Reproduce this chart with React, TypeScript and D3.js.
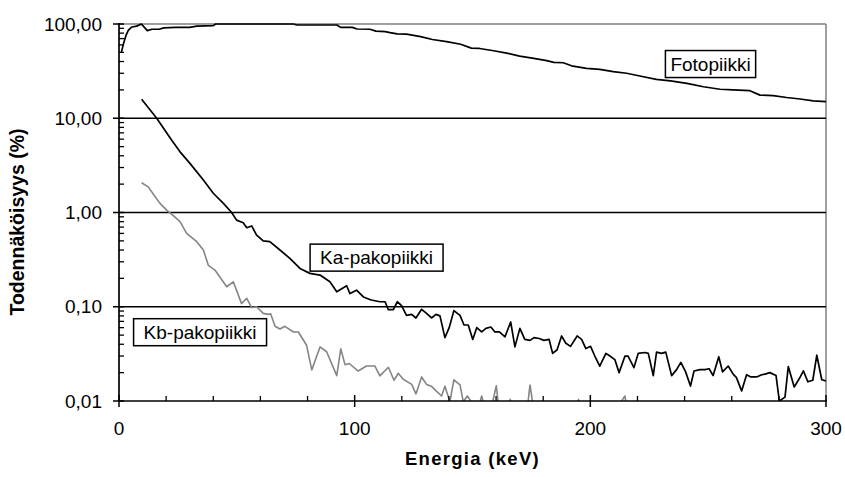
import React from "react";
import * as d3 from "d3";

const fotoE = [1, 2, 3, 4, 5.5, 7.5, 9.5, 12, 14, 17, 19, 24, 30, 33, 40, 41, 74, 75.5, 92.5, 94, 99, 101, 106.5, 109, 113, 115, 118, 122, 128, 133, 139, 145, 149.5, 153, 159, 164.5, 170, 176, 181.5, 184.5, 188.5, 192, 198.4, 204, 209.7, 215.4, 221, 228, 234, 241, 248, 255, 260.6, 267.7, 272, 277.6, 283.3, 289, 294.6, 300];
const fotoV = [50, 63, 76, 86, 93, 95, 100, 85, 88, 88, 91, 92, 92, 95, 96, 100, 100, 97.6, 97.6, 92, 92, 88.5, 88, 84, 83, 81, 78.5, 78, 73.5, 68.5, 65, 61, 55.5, 55, 52, 49, 45.7, 43.2, 40.8, 39.2, 38.8, 36, 33.8, 33, 31.2, 30, 28.1, 25.9, 24.9, 23.4, 21.6, 20.3, 20, 19.6, 17.6, 17.4, 16.6, 16, 15.3, 15];

const kaE = [9.6, 16, 22.3, 25.9, 30.1, 35.8, 40, 44.3, 47.8, 49.9, 52.7, 54.2, 56.3, 58.4, 61.2, 64, 68.3, 72.5, 76.8, 81, 85.3, 89.5, 92.4, 96.6, 98, 100.8, 103.7, 107, 110.7, 112.9, 114.3, 116.4, 118.1, 119.9, 122, 124.2, 126, 128.4, 130.5, 132.6, 134.5, 136.2, 138.3, 140.1, 142.1, 144.7, 146.4, 148.2, 150.1, 151.8, 153.9, 155.7, 157.8, 159.5, 161.4, 163.8, 166.2, 168, 170.1, 172.2, 174.4, 176.1, 178.3, 180.3, 182.5, 184, 185.9, 187.8, 189.6, 191.6, 194.4, 196.3, 198.1, 200.1, 201.9, 204, 206.6, 208.3, 210.4, 212.2, 214.7, 216, 218.5, 220.3, 223.2, 224.6, 226.7, 228.1, 230.2, 232, 234.5, 236.6, 238.4, 240.4, 242.5, 244, 246.5, 248.6, 250.4, 252.1, 254.5, 256.1, 258.5, 260.6, 262, 264.2, 266.3, 268.1, 270.6, 272.7, 274.1, 276.2, 278.8, 280.2, 282.6, 284, 286.5, 288.7, 290.4, 292.3, 294.4, 296.1, 298.2, 300];
const kaV = [15.9, 10, 5.87, 4.4, 3.32, 2.21, 1.6, 1.25, 1.0, 0.83, 0.78, 0.69, 0.72, 0.575, 0.5, 0.49, 0.4, 0.326, 0.255, 0.226, 0.217, 0.184, 0.144, 0.167, 0.138, 0.15, 0.127, 0.118, 0.113, 0.113, 0.093, 0.093, 0.113, 0.103, 0.081, 0.083, 0.076, 0.094, 0.085, 0.076, 0.083, 0.08, 0.047, 0.06, 0.091, 0.081, 0.064, 0.064, 0.045, 0.06, 0.054, 0.059, 0.061, 0.054, 0.054, 0.048, 0.069, 0.0375, 0.059, 0.045, 0.044, 0.047, 0.046, 0.044, 0.045, 0.032, 0.035, 0.049, 0.041, 0.038, 0.049, 0.045, 0.036, 0.038, 0.03, 0.0234, 0.032, 0.03, 0.0275, 0.02, 0.03, 0.03, 0.0226, 0.032, 0.0327, 0.032, 0.0186, 0.033, 0.032, 0.033, 0.0186, 0.0215, 0.0257, 0.0205, 0.0144, 0.0208, 0.0215, 0.0215, 0.022, 0.0186, 0.0295, 0.0204, 0.0235, 0.0193, 0.0177, 0.0128, 0.019, 0.018, 0.018, 0.019, 0.0193, 0.02, 0.0186, 0.01, 0.011, 0.0232, 0.0141, 0.0173, 0.0209, 0.016, 0.0166, 0.0306, 0.0168, 0.0163];

const kbE = [9.6, 12.4, 14.6, 17.4, 20.2, 22.3, 25.9, 28.7, 33, 35.8, 37.9, 40.7, 45.7, 48.5, 52, 54.2, 56.3, 58.4, 61.2, 63.3, 64.4, 66.2, 68.3, 70.4, 74, 76.1, 79.6, 81.8, 85.3, 88.1, 92.4, 94.1, 95.9, 97.7, 101.5, 105, 108.6, 110.7, 114.3, 116.7, 118.5, 120.6, 124.2, 126, 128.4, 130.5, 132.6, 135, 136.9, 138.3, 140.4, 142.1, 144.7, 146.1, 147.8, 149.5, 151.5, 153.9, 155.5, 158, 160.1, 161.5, 164, 166, 168, 171, 173.4, 174.4, 176, 180, 186, 192, 195, 197, 203, 209, 212, 214.7, 216, 220];
const kbV = [2.07, 1.87, 1.56, 1.25, 1.06, 0.96, 0.8, 0.6, 0.49, 0.4, 0.275, 0.245, 0.163, 0.184, 0.108, 0.123, 0.098, 0.1, 0.085, 0.083, 0.084, 0.062, 0.058, 0.062, 0.054, 0.054, 0.039, 0.0214, 0.0375, 0.0333, 0.0186, 0.0358, 0.0243, 0.025, 0.0208, 0.0235, 0.0235, 0.0185, 0.0228, 0.0166, 0.0197, 0.017, 0.015, 0.0119, 0.018, 0.015, 0.0143, 0.0125, 0.0113, 0.0143, 0.0098, 0.0168, 0.0148, 0.0098, 0.0113, 0.0098, 0.007, 0.0113, 0.008, 0.0085, 0.0145, 0.007, 0.006, 0.0104, 0.006, 0.006, 0.009, 0.0148, 0.008, 0.005, 0.006, 0.006, 0.0104, 0.006, 0.005, 0.006, 0.009, 0.0113, 0.007, 0.005];

const xTicks = [0, 100, 200, 300];
const yTicks = [0.01, 0.1, 1, 10, 100];
const gridValues = [0.1, 1, 10];

const labels = [
  { text: "Fotopiikki", e: 251, v: 37.6 },
  { text: "Ka-pakopiikki", e: 109.3, v: 0.332 },
  { text: "Kb-pakopiikki", e: 34.4, v: 0.0537 },
];

const W = 845;
const H = 477;
const L = 119, R = 826, T = 24, B = 401;

export default function App() {
  const x = d3.scaleLinear().domain([0, 300]).range([L, R]);
  const y = d3.scaleLog().domain([0.01, 100]).range([B, T]);
  const line = d3
    .line<[number, number]>()
    .x((d) => x(d[0]))
    .y((d) => y(d[1]));
  const foto = fotoE.map((e, i) => [e, fotoV[i]] as [number, number]);
  const ka = kaE.map((e, i) => [e, kaV[i]] as [number, number]);
  const kb = kbE.map((e, i) => [e, kbV[i]] as [number, number]);

  const minorY: number[] = [];
  [0.01, 0.1, 1, 10].forEach((d) => {
    for (let k = 2; k <= 9; k++) minorY.push(d * k);
  });
  const minorX = d3.range(0, 301, 20).filter((v) => v % 100 !== 0);
  const fmt = (v: number) => d3.format(".2f")(v).replace(".", ",");
  const font = "'Liberation Sans', Arial, sans-serif";
  const labelFont = 19;
  const charW = (t: string) => {
    const w: Record<string, number> = { F: 0.611, o: 0.556, t: 0.278, p: 0.556, i: 0.222, k: 0.5, K: 0.667, a: 0.556, "-": 0.333, b: 0.556 };
    return t.split("").reduce((s, c) => s + (w[c] ?? 0.556), 0) * labelFont;
  };

  return (
    <svg width={W} height={H} style={{ position: "absolute", left: 0, top: 0, background: "#fff" }} fontFamily={font}>
      <defs>
        <clipPath id="plotclip">
          <rect x={L} y={T - 2} width={R - L} height={B - T + 2} />
        </clipPath>
      </defs>
      <rect x={0} y={0} width={W} height={H} fill="#fff" />
      <line x1={L} x2={R} y1={y(100)} y2={y(100)} stroke="#808080" strokeWidth={1.5} />
      <line x1={R} x2={R} y1={T} y2={B} stroke="#808080" strokeWidth={1.5} />
      {gridValues.map((g) => (
        <line key={g} x1={L} x2={R} y1={y(g)} y2={y(g)} stroke="#000" strokeWidth={1.5} />
      ))}
      <g clipPath="url(#plotclip)" fill="none" strokeLinejoin="round">
        <path d={line(kb) || ""} stroke="#858585" strokeWidth={1.6} />
        <path d={line(ka) || ""} stroke="#000" strokeWidth={1.7} />
        <path d={line(foto) || ""} stroke="#000" strokeWidth={1.7} />
      </g>
      <line x1={L} x2={L} y1={T - 1} y2={B + 1} stroke="#000" strokeWidth={1.7} />
      <line x1={L - 1} x2={R + 1} y1={B} y2={B} stroke="#000" strokeWidth={1.7} />
      {minorY.map((v) => (
        <line key={"my" + v} x1={L} x2={L + 5} y1={y(v)} y2={y(v)} stroke="#000" strokeWidth={1.3} />
      ))}
      {yTicks.map((v) => (
        <g key={"y" + v}>
          <line x1={L - 6} x2={L + 5} y1={y(v)} y2={y(v)} stroke="#000" strokeWidth={1.5} />
          <text x={102} y={y(v) + 6.5} textAnchor="end" fontSize={19}>
            {fmt(v)}
          </text>
        </g>
      ))}
      {minorX.map((v) => (
        <line key={"mx" + v} x1={x(v)} x2={x(v)} y1={B - 5} y2={B} stroke="#000" strokeWidth={1.3} />
      ))}
      {xTicks.map((v) => (
        <g key={"x" + v}>
          <line x1={x(v)} x2={x(v)} y1={B - 6} y2={B + 6} stroke="#000" strokeWidth={1.5} />
          <text x={x(v)} y={435} textAnchor="middle" fontSize={19}>
            {v}
          </text>
        </g>
      ))}
      {labels.map((l) => {
        const cx = x(l.e);
        const cy = y(l.v);
        const w = charW(l.text);
        const bw = l.text === "Fotopiikki" ? w + 10 : w + 20;
        return (
          <g key={l.text}>
            <rect x={cx - bw / 2} y={cy - 13.5} width={bw} height={27} fill="#fff" stroke="#000" strokeWidth={1.5} />
            <text x={cx} y={cy + 6.8} textAnchor="middle" fontSize={labelFont}>
              {l.text}
            </text>
          </g>
        );
      })}
      <text x={(L + R) / 2} y={465} textAnchor="middle" fontSize={18.5} fontWeight="bold" letterSpacing={1.3}>
        Energia (keV)
      </text>
      <text transform={`translate(24,222) rotate(-90)`} textAnchor="middle" fontSize={19.5} fontWeight="bold">
        Todennäköisyys (%)
      </text>
    </svg>
  );
}
